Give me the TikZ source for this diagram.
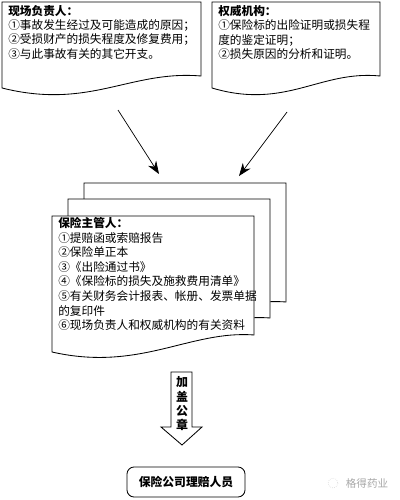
\documentclass[tikz,border=0pt]{standalone}
\usepackage{fontspec}
\setmainfont{Noto Sans CJK SC}
\usetikzlibrary{arrows.meta}

\tikzset{
    listtext/.style={anchor=north west, align=left, inner sep=0pt,
        font=\fontsize{8.3}{10.2}\selectfont},
    paper/.style={draw=black, fill=white, line width=0.6pt},
    feed/.style={line width=0.5pt, -{Stealth[length=3.2mm,width=2.4mm]}}
}

\begin{document}
\begin{tikzpicture}[x=0.025cm, y=-0.025cm]
    % frame of the picture (400 x 500)
    \useasboundingbox (0,0) rectangle (400,500);

    % Top boxes with a wavy lower edge
    \draw[paper] (2,2) -- (201,2) -- (201,76)
        .. controls (130,70) and (90,110) .. (2,88) -- cycle;
    \draw[paper] (212,2) -- (380,2) -- (380,76)
        .. controls (320,70) and (286,110) .. (212,88) -- cycle;

    \node[listtext] (scene) at (8,5) {\textbf{现场负责人：}\\
        ①事故发生经过及可能造成的原因；\\
        ②受损财产的损失程度及修复费用；\\
        ③与此事故有关的其它开支。};
    \node[listtext] (authority) at (218,5) {\textbf{权威机构：}\\
        ①保险标的出险证明或损失程\\
        度的鉴定证明；\\
        ②损失原因的分析和证明。};

    % Stack of three pages, back one first
    \foreach \dx/\dy in {32/-33, 16/-17, 0/0} {
        \draw[paper, shift={(\dx,\dy)}] (52,216) -- (254,216) -- (254,335)
            .. controls (190,330) and (140,372) .. (52,352) -- cycle;
    }
    \node[listtext, font=\fontsize{8.3}{10.4}\selectfont] (insurer) at (58,217) {\textbf{保险主管人：}\\
        ①提赔函或索赔报告\\
        ②保险单正本\\
        ③《出险通过书》\\
        ④《保险标的损失及施救费用清单》\\
        ⑤有关财务会计报表、帐册、发票单据\\
        的复印件\\
        ⑥现场负责人和权威机构的有关资料};

    % Arrows from the top boxes onto the stack
    \coordinate (scene-out) at (118,110);
    \coordinate (stack-in-l) at (159,174);
    \coordinate (authority-out) at (287,112);
    \coordinate (stack-in-r) at (239,176);
    \draw[feed] (scene-out) -- (stack-in-l);
    \draw[feed] (authority-out) -- (stack-in-r);

    % Hollow block arrow
    \draw[line width=0.6pt] (171,372) -- (192,372) -- (192,427) -- (202,427)
        -- (182,445) -- (161,427) -- (171,427) -- cycle;
    \node[inner sep=0pt, align=center, font=\fontsize{8.5}{10.2}\selectfont\bfseries]
        (stamp) at (182,404) {加\\盖\\公\\章};

    % Final receiver
    \node[draw, line width=0.6pt, rounded corners=5pt, minimum width=118*0.025cm,
        minimum height=30*0.025cm, font=\fontsize{8.4}{10}\selectfont\bfseries]
        (adjuster) at (186,482) {保险公司理赔人员};

    % watermark
    \draw[gray!40, densely dotted] (333,483) circle (5);
    \node[text=gray!70, font=\fontsize{7.5}{9}\selectfont] (mark) at (367,483) {格得药业};
\end{tikzpicture}
\end{document}
